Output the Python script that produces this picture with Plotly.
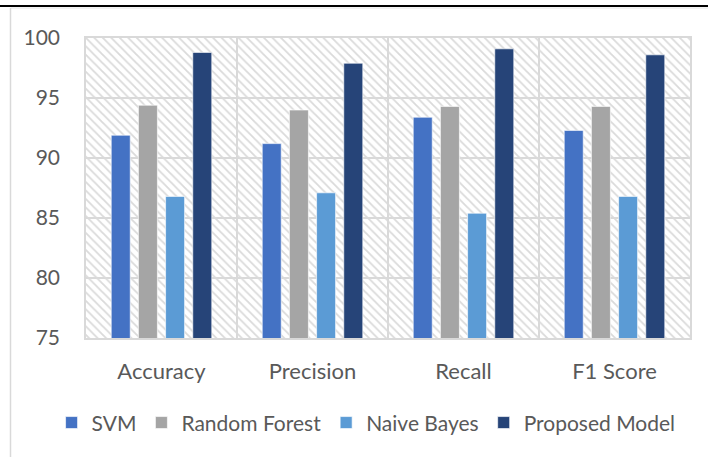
import plotly.graph_objects as go

# Evaluation metrics (%) per classifier
metrics = ["Accuracy", "Precision", "Recall", "F1 Score"]
svm = [91.9, 91.2, 93.4, 92.3]
random_forest = [94.4, 94.0, 94.3, 94.3]
naive_bayes = [86.8, 87.1, 85.4, 86.8]
proposed_model = [98.8, 97.9, 99.1, 98.6]

series = [
    ("SVM", svm, "#4472C4"),
    ("Random Forest", random_forest, "#A5A5A5"),
    ("Naive Bayes", naive_bayes, "#5B9BD5"),
    ("Proposed Model", proposed_model, "#264478"),
]

y_min, y_max = 75, 100
text_color = "#595959"
font_family = "Lato"
grid_color = "#d9d9d9"

fig = go.Figure()

# Hatched plot-area background (one cell per category)
fig.add_trace(go.Bar(
    x=metrics,
    y=[y_max - y_min] * len(metrics),
    base=[y_min] * len(metrics),
    width=[1] * len(metrics),
    marker=dict(
        color="rgba(0,0,0,0)",
        line=dict(width=0),
        pattern=dict(shape="\\", fgcolor="#dadada", bgcolor="rgba(0,0,0,0)",
                     size=6, solidity=0.3, fillmode="replace"),
    ),
    hoverinfo="skip",
    showlegend=False,
    xaxis="x",
    yaxis="y",
))

for name, values, color in series:
    fig.add_trace(go.Bar(
        x=metrics,
        y=values,
        name=name,
        marker=dict(color=color, line=dict(color="rgba(255,255,255,0.8)", width=0.8)),
        xaxis="x2",
        yaxis="y",
    ))

fig.update_layout(
    width=708,
    height=457,
    margin=dict(l=86, r=18, t=38, b=119, autoexpand=False),
    paper_bgcolor="white",
    plot_bgcolor="white",
    barmode="group",
    bargap=0.28,
    bargroupgap=0.3,
    font=dict(family=font_family, color=text_color, size=21),
    xaxis=dict(
        type="category",
        categoryorder="array",
        categoryarray=metrics,
        range=[-0.5, 3.5],
        tickson="boundaries",
        showgrid=True,
        gridcolor=grid_color,
        gridwidth=1.5,
        showline=True,
        linecolor=grid_color,
        linewidth=1.5,
        mirror=True,
        ticks="",
        ticklabelstandoff=13,
        tickfont=dict(size=22, color=text_color, family=font_family),
        zeroline=False,
    ),
    xaxis2=dict(
        type="category",
        categoryorder="array",
        categoryarray=metrics,
        range=[-0.5, 3.5],
        overlaying="x",
        showticklabels=False,
        showgrid=False,
        showline=False,
        zeroline=False,
    ),
    yaxis=dict(
        range=[y_min, y_max],
        dtick=5,
        showgrid=True,
        gridcolor=grid_color,
        gridwidth=1.5,
        showline=True,
        linecolor=grid_color,
        linewidth=1.5,
        mirror=True,
        ticks="",
        ticklabelstandoff=20,
        tickfont=dict(size=21, color=text_color, family=font_family),
        zeroline=False,
    ),
    legend=dict(
        orientation="h",
        x=-0.057,
        xanchor="left",
        y=-0.283,
        yanchor="middle",
        font=dict(size=21, color=text_color, family=font_family),
        itemwidth=30,
        traceorder="normal",
        bgcolor="rgba(0,0,0,0)",
    ),
    shapes=[
        # frame rules around the chart
        dict(type="line", xref="paper", yref="paper",
             x0=-0.1424, x1=1.03, y0=1.1067, y1=1.1067,
             line=dict(color="black", width=2)),
        dict(type="line", xref="paper", yref="paper",
             x0=-0.125, x1=1.03, y0=1.1, y1=1.1,
             line=dict(color="#e4e4e4", width=1)),
        dict(type="line", xref="paper", yref="paper",
             x0=-0.125, x1=-0.125, y0=1.1, y1=-0.4,
             line=dict(color=grid_color, width=1.5)),
    ],
)

fig.write_html("out.html")
